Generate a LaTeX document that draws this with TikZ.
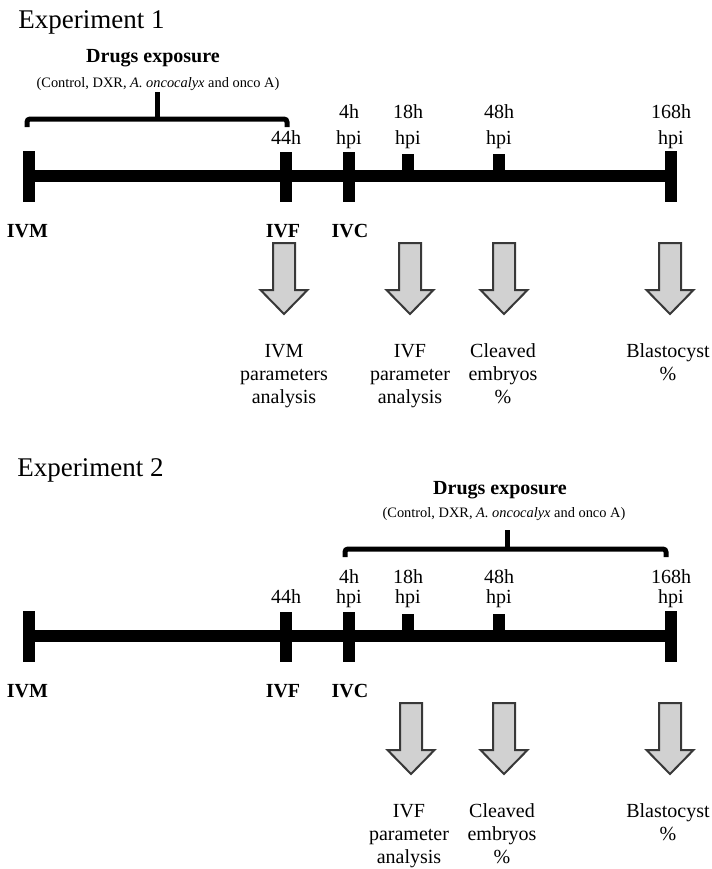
\documentclass[tikz,border=0pt]{standalone}
\usepackage{fontspec}
\setmainfont{Liberation Serif}

\begin{document}
\begin{tikzpicture}[x=0.5pt,y=-0.5pt,
    bar/.style={line width=6pt},
    brace/.style={line width=2.5pt,rounded corners=1.5pt},
    title/.style={anchor=base west,inner sep=0pt,font=\fontsize{13.5}{16}\selectfont},
    drugs/.style={anchor=base,inner sep=0pt,font=\bfseries\fontsize{10}{12}\selectfont},
    note/.style={anchor=base,inner sep=0pt,font=\fontsize{7.2}{8}\selectfont},
    tm/.style={anchor=base,inner sep=0pt,font=\fontsize{10}{12}\selectfont},
    stage/.style={anchor=base,inner sep=0pt,font=\bfseries\fontsize{10}{12}\selectfont},
    result/.style={anchor=north,inner sep=0pt,align=center,font=\fontsize{10}{11.5}\selectfont},
    arrowbox/.style={draw=black!78,line width=1pt,fill=black!18},
    pics/dnarrow/.style={code={
        \draw[arrowbox] (-11,0) -- (-11,47) -- (-23.5,47) -- (0,71)
            -- (23.5,47) -- (11,47) -- (11,0) -- cycle;}}]

\useasboundingbox (0,0) rectangle (712,869);

\node[title] (exp1) at (18,28) {Experiment 1};
\node[drugs] (drugs1) at (153,62) {Drugs exposure};
\node[note] (note1) at (158,87) {(Control,\ DXR, \textit{A. oncocalyx} and onco A)};

\coordinate (b1l) at (27,127);
\coordinate (b1r) at (287,127);
\coordinate (b1s) at (157,92);
\draw[brace] (b1l) -- (27,119) -- (287,119) -- (b1r);
\draw[brace] (b1s) -- (157,119);

\coordinate (ivm1) at (29,176);
\coordinate (ivf1) at (286,176);
\coordinate (ivc1) at (349,176);
\coordinate (hpi18a) at (408,176);
\coordinate (hpi48a) at (499,176);
\coordinate (hpi168a) at (671,176);

\draw[bar] (ivm1) -- (hpi168a);
\draw[bar] (ivm1) ++(0,-25) -- ++(0,51);
\draw[bar] (ivf1) ++(0,-24) -- ++(0,50);
\draw[bar] (ivc1) ++(0,-24) -- ++(0,50);
\draw[bar] (hpi18a) ++(0,-22) -- (hpi18a);
\draw[bar] (hpi48a) ++(0,-22) -- (hpi48a);
\draw[bar] (hpi168a) ++(0,-25) -- ++(0,51);

\node[tm] (t44a) at (286,144) {44h};
\node[tm] (t4a) at (349,118) {4h};
\node[tm] (p4a) at (349,144) {hpi};
\node[tm] (t18a) at (408,118) {18h};
\node[tm] (p18a) at (408,144) {hpi};
\node[tm] (t48a) at (499,118) {48h};
\node[tm] (p48a) at (499,144) {hpi};
\node[tm] (t168a) at (671,118) {168h};
\node[tm] (p168a) at (671,144) {hpi};

\node[stage] (sivm1) at (27.5,237) {IVM};
\node[stage] (sivf1) at (283,237) {IVF};
\node[stage] (sivc1) at (350,237) {IVC};

\pic at (284,243) {dnarrow};
\pic at (410,243) {dnarrow};
\pic at (504,243) {dnarrow};
\pic at (670,243) {dnarrow};

\node[result] (res1a) at (284,343.5) {IVM\\parameters\\analysis};
\node[result] (res2a) at (410,343.5) {IVF\\parameter\\analysis};
\node[result] (res3a) at (503,343.5) {Cleaved\\embryos\\\%};
\node[result] (res4a) at (668,343.5) {Blastocyst\\\%};

\node[title] (exp2) at (17,476) {Experiment 2};
\node[drugs] (drugs2) at (500,494) {Drugs exposure};
\node[note] (note2) at (504,517) {(Control,\ DXR, \textit{A. oncocalyx} and onco A)};

\coordinate (b2l) at (345,557);
\coordinate (b2r) at (666,557);
\coordinate (b2s) at (507,530);
\draw[brace] (b2l) -- (345,549) -- (666,549) -- (b2r);
\draw[brace] (b2s) -- (507,549);

\coordinate (ivm2) at (29,636);
\coordinate (ivf2) at (286,636);
\coordinate (ivc2) at (349,636);
\coordinate (hpi18b) at (408,636);
\coordinate (hpi48b) at (499,636);
\coordinate (hpi168b) at (671,636);

\draw[bar] (ivm2) -- (hpi168b);
\draw[bar] (ivm2) ++(0,-25) -- ++(0,51);
\draw[bar] (ivf2) ++(0,-24) -- ++(0,50);
\draw[bar] (ivc2) ++(0,-24) -- ++(0,50);
\draw[bar] (hpi18b) ++(0,-22) -- (hpi18b);
\draw[bar] (hpi48b) ++(0,-22) -- (hpi48b);
\draw[bar] (hpi168b) ++(0,-25) -- ++(0,51);

\node[tm] (t44b) at (286,603) {44h};
\node[tm] (t4b) at (349,583) {4h};
\node[tm] (p4b) at (349,603) {hpi};
\node[tm] (t18b) at (408,583) {18h};
\node[tm] (p18b) at (408,603) {hpi};
\node[tm] (t48b) at (499,583) {48h};
\node[tm] (p48b) at (499,603) {hpi};
\node[tm] (t168b) at (671,583) {168h};
\node[tm] (p168b) at (671,603) {hpi};

\node[stage] (sivm2) at (27.5,697) {IVM};
\node[stage] (sivf2) at (283,697) {IVF};
\node[stage] (sivc2) at (350,697) {IVC};

\pic at (411,703) {dnarrow};
\pic at (504,703) {dnarrow};
\pic at (670,703) {dnarrow};

\node[result] (res2b) at (409,803.5) {IVF\\parameter\\analysis};
\node[result] (res3b) at (502,803.5) {Cleaved\\embryos\\\%};
\node[result] (res4b) at (668,803.5) {Blastocyst\\\%};

\end{tikzpicture}
\end{document}
